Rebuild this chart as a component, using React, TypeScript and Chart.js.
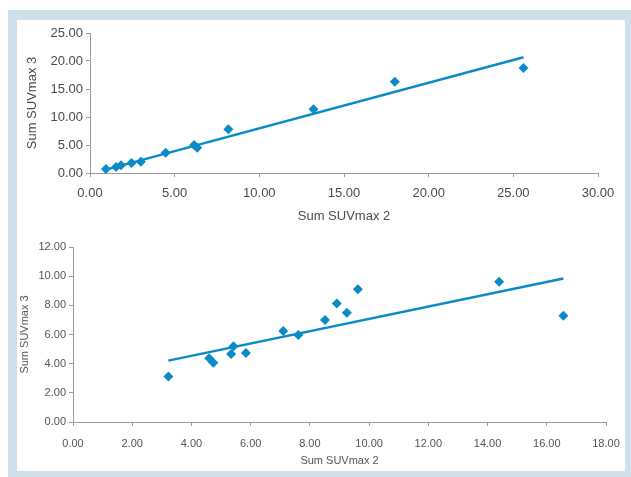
import React, { useEffect, useRef } from "react";
import { Chart, registerables } from "chart.js";

Chart.register(...registerables);

// Top chart data
const topX = [0.94, 1.54, 1.83, 2.45, 3.0, 4.47, 6.15, 6.33, 8.17, 13.2, 18.0, 25.6];
const topY = [0.7, 1.07, 1.4, 1.8, 2.0, 3.6, 5.0, 4.5, 7.8, 11.4, 16.3, 18.75];
const topTrendX = [0.94, 25.6];
const topTrendY = [0.6, 20.66];

// Bottom chart data
const botX = [3.22, 4.6, 4.74, 5.34, 5.42, 5.84, 7.1, 7.61, 8.51, 8.91, 9.25, 9.62, 14.39, 16.56];
const botY = [3.12, 4.37, 4.07, 4.67, 5.2, 4.74, 6.24, 5.97, 6.99, 8.13, 7.49, 9.11, 9.61, 7.29];
const botTrendX = [3.22, 16.56];
const botTrendY = [4.21, 9.84];

const xTitle = "Sum SUVmax 2";
const yTitle = "Sum SUVmax 3";

const BLUE = "#0a8bc8";
const AXIS = "#9a9a9a";

type Cfg = {
  xs: number[];
  ys: number[];
  tx: number[];
  ty: number[];
  xMax: number;
  xStep: number;
  yMax: number;
  yStep: number;
  fontSize: number;
  color: string;
  pad: { left: number; right: number; top: number; bottom: number };
  yWidth: number;
  xHeight: number;
  yTitlePad: number;
  xTitlePad: number;
  xTickPad: number;
};

function buildChart(canvas: HTMLCanvasElement, c: Cfg) {
  const font = { family: "'Liberation Sans', Arial, sans-serif", size: c.fontSize };
  return new Chart(canvas, {
    type: "scatter",
    data: {
      datasets: [
        {
          data: c.xs.map((x, i) => ({ x, y: c.ys[i] })),
          pointStyle: "rectRot",
          pointRadius: 5,
          backgroundColor: BLUE,
          borderColor: BLUE,
          borderWidth: 0,
          showLine: false,
        },
        {
          data: c.tx.map((x, i) => ({ x, y: c.ty[i] })),
          showLine: true,
          pointRadius: 0,
          borderColor: BLUE,
          borderWidth: 2.5,
          fill: false,
        },
      ],
    },
    options: {
      animation: false,
      responsive: false,
      maintainAspectRatio: false,
      layout: { padding: c.pad },
      plugins: { legend: { display: false }, tooltip: { enabled: false } },
      scales: {
        x: {
          type: "linear",
          min: 0,
          max: c.xMax,
          afterFit: (s: any) => {
            s.height = c.xHeight;
          },
          border: { display: true, color: AXIS, width: 1 },
          grid: { display: true, drawOnChartArea: false, drawTicks: true, tickLength: 4, color: AXIS },
          ticks: {
            stepSize: c.xStep,
            padding: c.xTickPad,
            color: c.color,
            font,
            maxRotation: 0,
            callback: (v: any) => Number(v).toFixed(2),
          },
          title: { display: true, text: xTitle, color: c.color, font, padding: { top: 0, bottom: c.xTitlePad } },
        },
        y: {
          type: "linear",
          min: 0,
          max: c.yMax,
          afterFit: (s: any) => {
            s.width = c.yWidth;
          },
          border: { display: true, color: AXIS, width: 1 },
          grid: { display: true, drawOnChartArea: false, drawTicks: true, tickLength: 4, color: AXIS },
          ticks: {
            stepSize: c.yStep,
            padding: 3,
            color: c.color,
            font,
            callback: (v: any) => Number(v).toFixed(2),
          },
          title: { display: true, text: yTitle, color: c.color, font, padding: { top: c.yTitlePad, bottom: 0 } },
        },
      },
    },
  } as any);
}

function ChartCanvas({ cfg, top, height }: { cfg: Cfg; top: number; height: number }) {
  const ref = useRef<HTMLCanvasElement>(null);
  useEffect(() => {
    if (!ref.current) return;
    const ch = buildChart(ref.current, cfg);
    return () => ch.destroy();
  }, []);
  return (
    <canvas
      ref={ref}
      width={631}
      height={height}
      style={{ position: "absolute", left: 0, top, width: 631, height }}
    />
  );
}

const topCfg: Cfg = {
  xs: topX,
  ys: topY,
  tx: topTrendX,
  ty: topTrendY,
  xMax: 30,
  xStep: 5,
  yMax: 25,
  yStep: 5,
  fontSize: 13,
  color: "#4a4a4a",
  pad: { left: 0, right: 33, top: 33, bottom: 0 },
  yWidth: 90,
  xHeight: 57,
  yTitlePad: 25,
  xTitlePad: 6,
  xTickPad: 9,
};

const botCfg: Cfg = {
  xs: botX,
  ys: botY,
  tx: botTrendX,
  ty: botTrendY,
  xMax: 18,
  xStep: 2,
  yMax: 12,
  yStep: 2,
  fontSize: 11,
  color: "#555555",
  pad: { left: 0, right: 25, top: 17, bottom: 0 },
  yWidth: 73,
  xHeight: 55,
  yTitlePad: 18,
  xTitlePad: 9,
  xTickPad: 11,
};

export default function App() {
  return (
    <div style={{ position: "absolute", left: 0, top: 0, width: 631, height: 477, background: "#ffffff", overflow: "hidden" }}>
      <div style={{ position: "absolute", left: 8, top: 10, width: 623, height: 467, background: "#cfe0ea" }} />
      <div style={{ position: "absolute", left: 17, top: 20, width: 608, height: 451, background: "#ffffff" }} />
      <ChartCanvas cfg={topCfg} top={0} height={230} />
      <ChartCanvas cfg={botCfg} top={230} height={247} />
    </div>
  );
}
